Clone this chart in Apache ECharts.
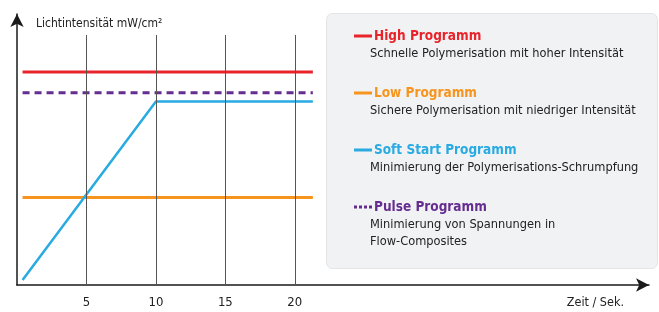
<!DOCTYPE html>
<html>
<head>
<meta charset="utf-8">
<script src="https://cdn.jsdelivr.net/npm/echarts@6/dist/echarts.min.js"></script>
<style>
  html, body { margin: 0; padding: 0; background: #fff; }
  #chart { width: 659px; height: 312px; }
</style>
</head>
<body>
<div id="chart"></div>
<script>
// Zeitpunkte (Sek.) und Lichtintensität je Programm
const time = [0.4, 10, 21.3]
const high = [86.5, 86.5, 86.5]
const low = [35.5, 35.5, 35.5]
const softStart = [2, 74.5, 74.5]
const pulse = [78, 78, 78]

const xTicks = [5, 10, 15, 20]
const gridLineTop = 101.5

const names = ['High Programm', 'Low Programm', 'Soft Start Programm', 'Pulse Programm']
const descriptions = [
  'Schnelle Polymerisation mit hoher Intensität',
  'Sichere Polymerisation mit niedriger Intensität',
  'Minimierung der Polymerisations-Schrumpfung',
  'Minimierung von Spannungen in\nFlow-Composites'
]
const colors = ['#e8232a', '#f7941d', '#29abe2', '#662d91']

const font = '"Liberation Sans Narrow", "DejaVu Sans Condensed", sans-serif'

const pairs = (ys) => time.map((t, i) => [t, ys[i]])

const solidIcon = 'rect'
const dottedIcon = 'path://M0,0h3v3h-3z M5,0h3v3h-3z M10,0h3v3h-3z M15,0h3v3h-3z'

const chart = echarts.init(document.getElementById('chart'))

chart.setOption({
  animation: false,
  textStyle: { fontFamily: font },
  grid: {
    left: 17,
    right: 10,
    top: 14,
    bottom: 27
  },
  xAxis: {
    type: 'value',
    min: 0,
    max: 45.5,
    name: 'Zeit / Sek.',
    nameLocation: 'end',
    nameGap: -25,
    nameTextStyle: {
      fontFamily: font,
      fontSize: 12.5,
      color: '#222',
      align: 'right',
      verticalAlign: 'top',
      padding: [11, 0, 0, 0]
    },
    axisLine: {
      lineStyle: { color: '#1a1a1a', width: 1.5 },
      symbol: ['none', 'arrow'],
      symbolSize: [10, 13]
    },
    axisTick: { show: false },
    splitLine: { show: false },
    axisLabel: {
      customValues: xTicks,
      margin: 11,
      fontFamily: font,
      fontSize: 13,
      color: '#222'
    }
  },
  yAxis: {
    type: 'value',
    min: 0,
    max: 110,
    name: 'Lichtintensität mW/cm²',
    nameLocation: 'end',
    nameGap: -10,
    nameTextStyle: {
      fontFamily: font,
      fontSize: 12,
      color: '#222',
      align: 'left',
      verticalAlign: 'middle',
      padding: [0, 0, 0, 19]
    },
    axisLine: {
      show: true,
      lineStyle: { color: '#1a1a1a', width: 1.5 },
      symbol: ['none', 'arrow'],
      symbolSize: [10, 13]
    },
    axisTick: { show: false },
    axisLabel: { show: false },
    splitLine: { show: false }
  },
  legend: {
    orient: 'vertical',
    left: 349,
    top: 23,
    itemWidth: 18,
    itemHeight: 3,
    itemGap: 41,
    selectedMode: false,
    textStyle: {
      fontFamily: font,
      fontSize: 13.5,
      fontWeight: 'bold',
      lineHeight: 16,
      padding: [0, 0, 0, -3]
    },
    data: names.map((n, i) => ({
      name: n,
      icon: i === 3 ? dottedIcon : solidIcon,
      textStyle: { color: colors[i] }
    }))
  },
  graphic: [
    {
      type: 'rect',
      left: 326,
      top: 13,
      shape: { width: 331, height: 255, r: 6 },
      style: { fill: '#f1f2f4', stroke: '#e3e4e7', lineWidth: 1 },
      z: -10
    }
  ].concat(descriptions.map((d, i) => ({
    type: 'text',
    left: 370,
    top: 45 + i * 57,
    style: {
      text: d,
      font: '12.7px ' + font,
      fill: '#222',
      lineHeight: 17
    }
  }))),
  series: [
    {
      type: 'line',
      data: [],
      silent: true,
      z: 1,
      markLine: {
        silent: true,
        symbol: 'none',
        label: { show: false },
        lineStyle: { color: '#555', width: 1, type: 'solid' },
        data: xTicks.map(t => [{ coord: [t, 0] }, { coord: [t, gridLineTop] }])
      }
    },
    {
      name: names[0],
      type: 'line',
      symbol: 'none',
      z: 3,
      lineStyle: { color: colors[0], width: 3 },
      itemStyle: { color: colors[0] },
      data: pairs(high)
    },
    {
      name: names[1],
      type: 'line',
      symbol: 'none',
      z: 3,
      lineStyle: { color: colors[1], width: 3 },
      itemStyle: { color: colors[1] },
      data: pairs(low)
    },
    {
      name: names[2],
      type: 'line',
      symbol: 'none',
      z: 3,
      lineStyle: { color: colors[2], width: 2.5 },
      itemStyle: { color: colors[2] },
      data: pairs(softStart)
    },
    {
      name: names[3],
      type: 'line',
      symbol: 'none',
      z: 3,
      lineStyle: { color: colors[3], width: 3, type: [7, 5] },
      itemStyle: { color: colors[3] },
      data: pairs(pulse)
    }
  ]
})
</script>
</body>
</html>
